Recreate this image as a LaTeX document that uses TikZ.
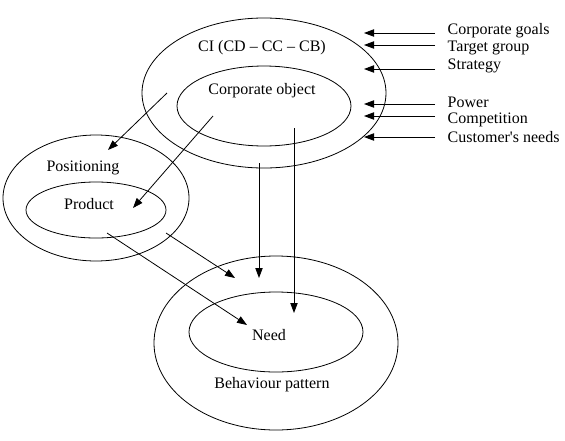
\documentclass[tikz,border=0pt]{standalone}
\usepackage{fontspec}
\setmainfont{Liberation Serif}
\usetikzlibrary{shapes.geometric,arrows.meta,positioning}
\tikzset{ring/.style={draw, ellipse, inner sep=0pt}}
\tikzstyle{lbl}=[inner sep=1pt, font=\fontsize{12}{14}\selectfont]
\tikzstyle{side}=[lbl, anchor=west]

\begin{document}
\begin{tikzpicture}[x=0.75pt, y=-0.75pt, >={Triangle[length=7.5pt,width=5.5pt]}, line width=0.6pt]
\useasboundingbox (0,0) rectangle (565,440);
% ellipses
\node[ring, minimum width=183pt, minimum height=112.5pt] (CI) at (264,93) {};
\node[ring, minimum width=130.5pt, minimum height=60pt] (CO) at (264,106) {};
\node[ring, minimum width=139.5pt, minimum height=94.5pt] (Pos) at (96,198) {};
\node[ring, minimum width=105pt, minimum height=42pt] (Prod) at (96,210) {};
\node[ring, minimum width=183pt, minimum height=130.5pt] (Beh) at (276,343) {};
\node[ring, minimum width=130.5pt, minimum height=60pt] (Need) at (276,332) {};
% texts in the ellipses
\node[lbl] (tCI) at (262,48) {CI (CD -- CC -- CB)};
\node[lbl] (tCO) at (262,91) {Corporate object};
\node[lbl] (tPos) at (83,168) {Positioning};
\node[lbl] (tProd) at (89,204) {Product};
\node[lbl] (tNeed) at (269,335) {Need};
\node[lbl] (tBeh) at (272,385) {Behaviour pattern};
% influences on the right
\node[side] (goals) at (446,31) {Corporate goals};
\node[side] (target) at (446,48) {Target group};
\node[side] (strat) at (446,66) {Strategy};
\node[side] (power) at (446,102) {Power};
\node[side] (comp) at (446,120) {Competition};
\node[side] (needs) at (446,137) {Customer\textquotesingle s needs};
\coordinate (g1) at (435,33);   \coordinate (g2) at (364,33);
\coordinate (t1) at (435,45);   \coordinate (t2) at (364,45);
\coordinate (s1) at (435,69);   \coordinate (s2) at (364,69);
\coordinate (p1) at (435,104);  \coordinate (p2) at (364,104);
\coordinate (c1) at (435,116);  \coordinate (c2) at (364,116);
\coordinate (n1) at (435,137);  \coordinate (n2) at (364,137);
\draw[->] (g1) -- (g2);
\draw[->] (t1) -- (t2);
\draw[->] (s1) -- (s2);
\draw[->] (p1) -- (p2);
\draw[->] (c1) -- (c2);
\draw[->] (n1) -- (n2);
% arrows between the ellipses
\coordinate (a1) at (167,93);  \coordinate (a2) at (108,150);
\coordinate (b1) at (213,116); \coordinate (b2) at (133,208);
\coordinate (c3) at (259,163); \coordinate (c4) at (259,278);
\coordinate (d1) at (294,128); \coordinate (d2) at (294,313);
\coordinate (e1) at (166,233); \coordinate (e2) at (235,278);
\coordinate (f1) at (107,233); \coordinate (f2) at (247,325);
\path[->] (a1) edge (a2)
(b1) edge (b2)
(c3) edge (c4)
(d1) edge (d2)
(e1) edge (e2)
(f1) edge (f2);
\end{tikzpicture}
\end{document}
